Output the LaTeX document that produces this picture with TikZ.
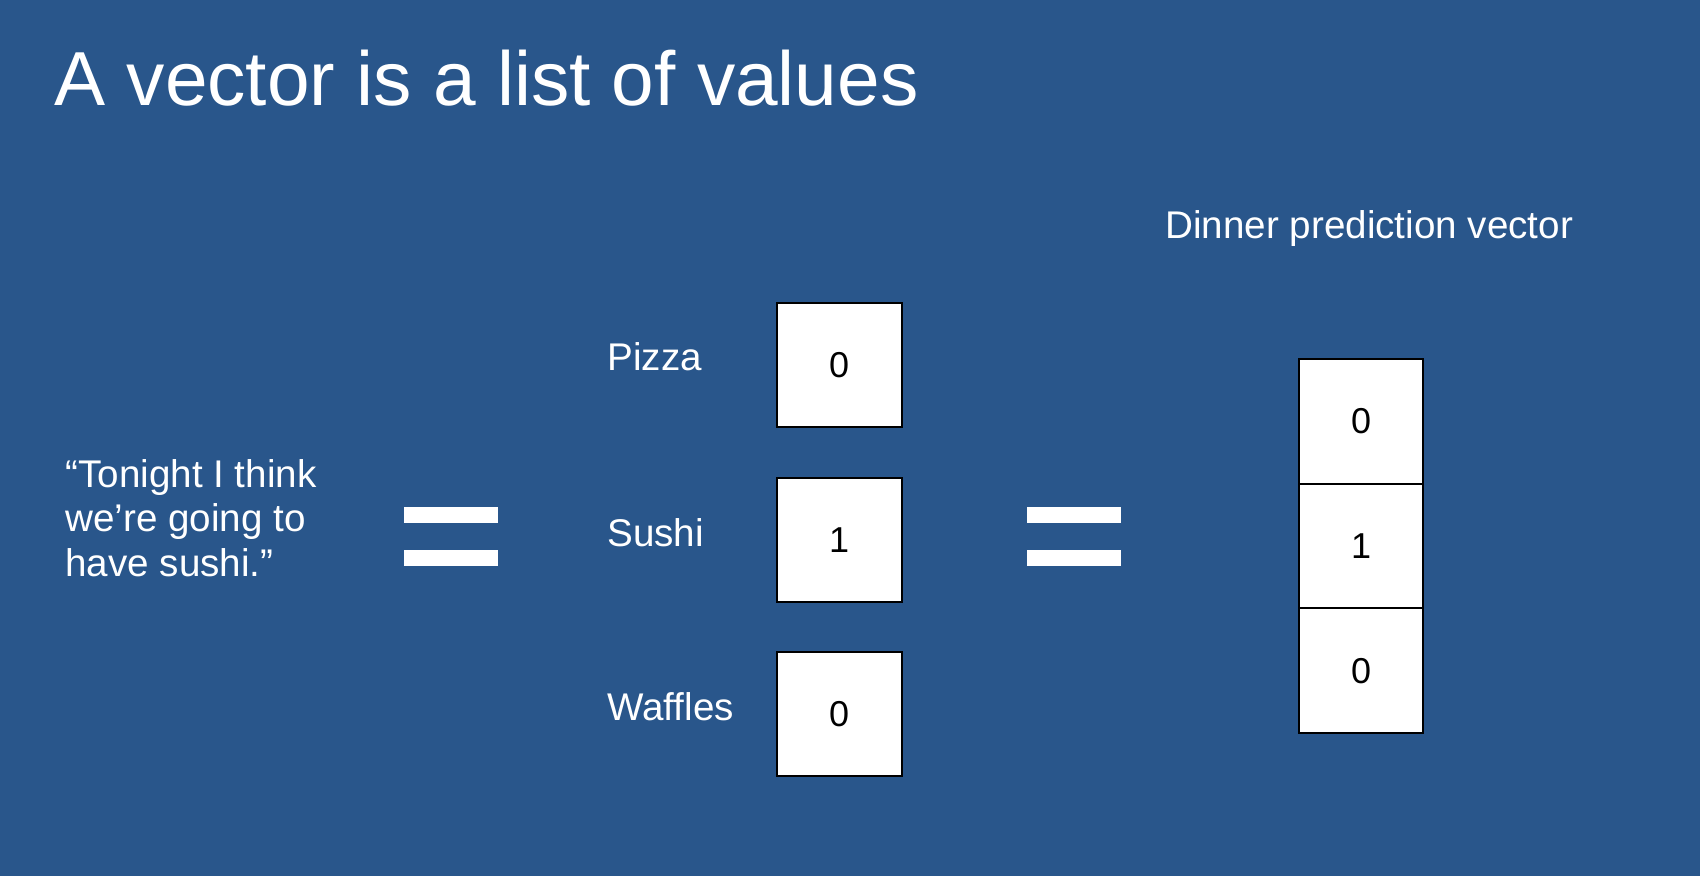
\documentclass[tikz,border=0pt]{standalone}
\usepackage{fontspec}
\setmainfont{Liberation Sans}
\usetikzlibrary{positioning}
\definecolor{fondo}{RGB}{41,86,139}

\begin{document}
\begin{tikzpicture}[x=0.5pt, y=-0.5pt,
    texto/.style={text=white, inner sep=0pt, font=\fontsize{19.3}{22.25}\selectfont},
    celda/.style={draw=black, line width=1pt, fill=white, inner sep=0pt, outer sep=0pt,
        font=\fontsize{18}{21}\selectfont}]
    % Fondo de la diapositiva
    \fill[fondo] (0,0) rectangle (1700,876);
    \useasboundingbox (0,0) rectangle (1700,876);

    % Titulo
    \node[texto, anchor=base west, font=\fontsize{38.3}{46}\selectfont] (titulo) at (54,106) {A vector is a list of values};

    % Frase de la cena
    \node[texto, anchor=north west, align=left] (frase) at (65,459) {“Tonight I think\\we’re going to\\have sushi.”};

    % Signos de igual
    \foreach \x in {404, 1027} {
        \fill[white] (\x,507) rectangle ++(94,16);
        \fill[white] (\x,550) rectangle ++(94,16);
    }

    % Valores sueltos con su etiqueta
    \node[celda, minimum width=62.5pt, minimum height=62pt] (pizza) at (839,365) {0};
    \node[celda, minimum width=62.5pt, minimum height=62pt] (sushi) at (839,540) {1};
    \node[celda, minimum width=62.5pt, minimum height=62pt] (waffles) at (839,714) {0};
    \node[texto, anchor=base west] (lpizza) at (607,371) {Pizza};
    \node[texto, anchor=base west] (lsushi) at (607,546) {Sushi};
    \node[texto, anchor=base west] (lwaffles) at (607,720) {Waffles};

    % Vector de prediccion
    \node[texto, anchor=base west] (lvector) at (1165,239) {Dinner prediction vector};
    \node[celda, minimum width=62pt, minimum height=62.3pt] (v1) at (1361,421.5) {0};
    \node[celda, minimum width=62pt, minimum height=62.3pt, below=0pt of v1] (v2) {1};
    \node[celda, minimum width=62pt, minimum height=62.3pt, below=0pt of v2] (v3) {0};
\end{tikzpicture}
\end{document}
